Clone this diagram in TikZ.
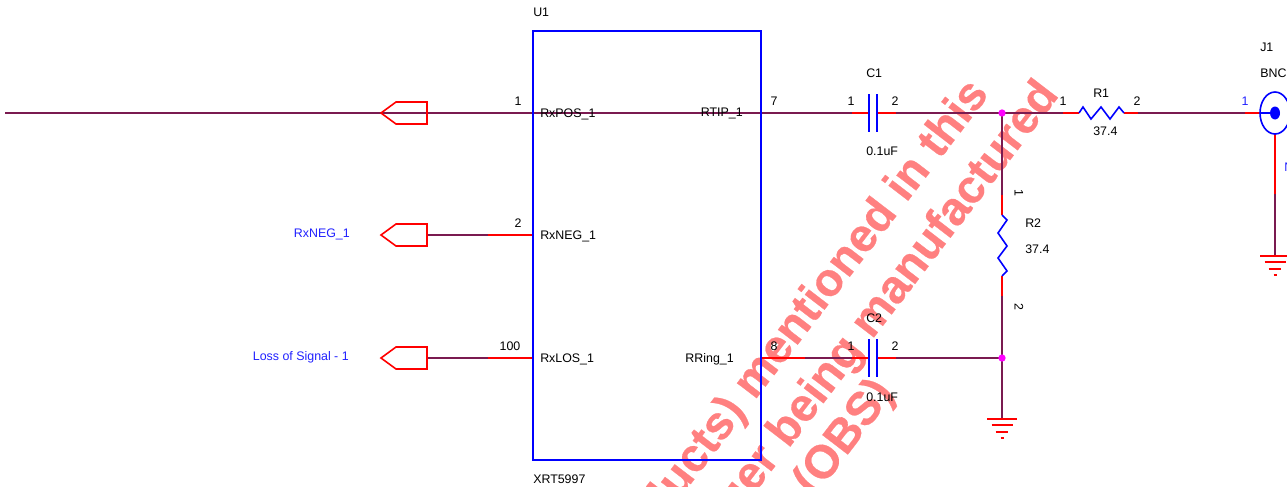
\documentclass[tikz,border=0pt]{standalone}
\usepackage{fontspec}
\setmainfont{Liberation Sans}
\newfontfamily\stampfont[BoldFeatures={FakeBold=0.5}]{Liberation Sans}
\definecolor{wirecol}{HTML}{7A1A50}
\definecolor{pinred}{HTML}{FF0000}
\definecolor{partblue}{HTML}{0000FF}
\definecolor{netblue}{HTML}{2020FF}
\definecolor{stampred}{HTML}{FF8080}
\definecolor{dotpink}{HTML}{FF00FF}
\tikzset{
  part/.style={draw=none, inner sep=0pt, text height=6.66pt, text depth=0pt, font=\fontsize{9.3}{11}\selectfont},
  netlabel/.style={part, text=netblue},
  wire/.style={draw=wirecol, line width=1.4pt},
  pinline/.style={draw=pinred, line width=1.4pt},
  body/.style={draw=partblue, line width=1.2pt},
  port/.style={draw=pinred, line width=1.2pt},
  dot/.style={circle, fill=dotpink, draw=none, inner sep=0pt, minimum size=5.5pt},
  stamp/.style={draw=none, inner sep=0pt, text=stampred, rotate=52.5, font=\fontsize{35}{40}\stampfont\bfseries}
}
\newcommand{\gnd}[2]{
  \draw[pinline] (#1-15,#2) -- (#1+15,#2);
  \draw[pinline] (#1-10.5,#2+6) -- (#1+10.5,#2+6);
  \draw[pinline] (#1-6.3,#2+13) -- (#1+6.3,#2+13);
  \draw[pinline] (#1-1.5,#2+19) -- (#1+1.5,#2+19);}
\newcommand{\portshape}[1]{
  \draw[port] (381,#1) -- (396,#1-11) -- (427,#1-11) -- (427,#1+11) -- (396,#1+11) -- cycle;}
\begin{document}
\begin{tikzpicture}[x=.75pt,y=-.75pt]
\useasboundingbox (0,0) rectangle (1287,486);
\clip (0,0) rectangle (1287,486);

\node[stamp, anchor=base east]()at(990,94){(products) mentioned in this};
\node[stamp, anchor=base east]()at(1060,95){no longer being manufactured};
\node[stamp, anchor=base east]()at(895,393){(OBS)};

\coordinate (a0) at (5,113);
\coordinate (a1) at (488,113);
\coordinate (a2) at (533,113);
\coordinate (a3) at (761,113);
\coordinate (a4) at (852,113);
\coordinate (a5) at (869,113);
\coordinate (a6) at (877,113);
\coordinate (a7) at (896,113);
\coordinate (a8) at (1002,113);
\coordinate (a9) at (1063,113);
\coordinate (a10) at (1079,113);
\coordinate (a11) at (1124,113);
\coordinate (a12) at (1138,113);
\coordinate (a13) at (1245,113);
\coordinate (a14) at (1260,113);
\coordinate (a15) at (1275,113);

\coordinate (b0) at (427,235);
\coordinate (b1) at (488,235);
\coordinate (b2) at (533,235);
\coordinate (c0) at (427,358);
\coordinate (c1) at (488,358);
\coordinate (c2) at (533,358);

\coordinate (d0) at (761,358);
\coordinate (d1) at (805,358);
\coordinate (d2) at (852,358);
\coordinate (d3) at (869,358);
\coordinate (d4) at (877,358);
\coordinate (d5) at (896,358);
\coordinate (d6) at (1002,358);

\coordinate (e0) at (1002,195);
\coordinate (e1) at (1002,215);
\coordinate (e2) at (1002,276);
\coordinate (e3) at (1002,296);
\coordinate (e4) at (1002,419);
\coordinate (f0) at (1275,133);
\coordinate (f1) at (1275,194);
\coordinate (f2) at (1275,256);

% pins
\draw[pinline] (a4) -- (a5);
\draw[pinline] (a6) -- (a7);
\draw[pinline] (a9) -- (a10);
\draw[pinline] (a11) -- (a12);
\draw[pinline] (a13) -- (a14);
\draw[pinline] (b1) -- (b2);
\draw[pinline] (c1) -- (c2);
\draw[pinline] (d0) -- (d1);
\draw[pinline] (d2) -- (d3);
\draw[pinline] (d4) -- (d5);
\draw[pinline] (e0) -- (e1);
\draw[pinline] (e2) -- (e3);
\draw[pinline] (f0) -- (f1);

% nets
\draw[wire] (a0) -- (a4);
\draw[wire] (a7) -- (a8) -- (a9);
\draw[wire] (a12) -- (a13);
\draw[wire] (b0) -- (b1);
\draw[wire] (c0) -- (c1);
\draw[wire] (d1) -- (d2);
\draw[wire] (d5) -- (d6);
\draw[wire] (a8) -- (e0);
\draw[wire] (e3) -- (d6) -- (e4);
\draw[wire] (f1) -- (f2);

% parts
\draw[body] (533,31) rectangle (761,460);
\portshape{113}
\portshape{235}
\portshape{358}

\draw[body] (869,94) -- (869,132);
\draw[body] (877,94) -- (877,132);
\draw[body] (869,339) -- (869,377);
\draw[body] (877,339) -- (877,377);

\draw[body] (a10) -- (1083,107) -- (1091,119) -- (1101,107) -- (1110,119) -- (1119,107) -- (a11);
\draw[body] (e1) -- (1007,220) -- (998,233) -- (1007,246) -- (998,258) -- (1007,271) -- (e2);

\draw[body] (a15) ellipse (15 and 21);
\draw[body] (a14) -- (a15);
\fill[partblue] (a15) ellipse (5 and 6.5);

\gnd{1002}{419}
\gnd{1275}{256}

\node[dot] (j1) at (a8) {};
\node[dot] (j2) at (d6) {};

% labels
\node[part, anchor=west] (U1) at (533,12) {U1};
\node[part, anchor=west] (XRT) at (533,479) {XRT5997};
\foreach \t/\y in {RxPOS\_1/113, RxNEG\_1/235.5, RxLOS\_1/357.7}{
  \node[part, anchor=west] () at (540,\y) {\t};}
\node[part, anchor=east] () at (743,112.5) {RTIP\_1};
\node[part, anchor=east] () at (734,357.7) {RRing\_1};
\foreach \t/\x/\y in {1/518/100.7, 2/518/222.7, 100/510/345.7, 7/774/100.7, 8/774/345.7, 1/851/100.7, 2/895/100.7, 1/851/345.7, 2/895/345.7, 1/1063/100.7, 2/1137/100.7}{
  \node[part] () at (\x,\y) {\t};}
\node[part, rotate=-90] () at (1019,193) {1};
\node[part, rotate=-90] () at (1019,307) {2};
\foreach \t/\x/\y in {C1/866/73.5, 0.1uF/866/150.7, C2/866/318, 0.1uF/866/396.7, R1/1093/93.3, 37.4/1093/130.7, R2/1025/222.7, 37.4/1025/249.5, J1/1260/47.3, BNC/1260/73.5}{
  \node[part, anchor=west] () at (\x,\y) {\t};}
\node[netlabel, anchor=east] () at (350,232.7) {RxNEG\_1};
\node[netlabel, anchor=east] () at (349,355.7) {Loss of Signal - 1};
\node[netlabel] () at (1245,100.7) {1};
\node[netlabel, anchor=west] () at (1284,167) {N};
\end{tikzpicture}
\end{document}
